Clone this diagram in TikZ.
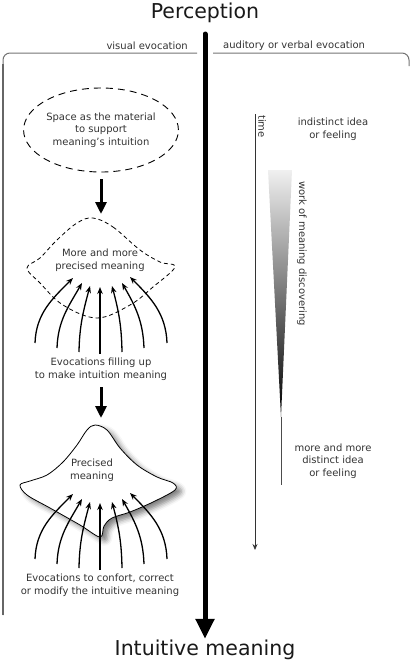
\documentclass[tikz,border=0pt]{standalone}
\usepackage{fontspec}
\setmainfont{DejaVu Sans}
\usetikzlibrary{arrows.meta,shadows.blur,shapes.geometric,positioning}

\begin{document}
\begin{tikzpicture}[
  x=1pt, y=-1pt,
  txt/.style={font=\fontsize{10}{12.5}\selectfont, text=black!80, align=center, inner sep=0pt},
  bigtxt/.style={font=\fontsize{20.5}{24}\selectfont, text=black!90, inner sep=1pt},
  hdr/.style={draw=black!55, line width=1pt, rounded corners=7pt},
  bigarrow/.style={line width=5pt, line cap=round, -{Triangle[width=18pt,length=20pt]}},
  downarrow/.style={line width=3pt, -{Triangle[width=11pt,length=12pt]}},
  fan/.style={line width=1.3pt, -{Stealth[length=7pt,width=5.5pt]}},
  thinarrow/.style={line width=0.8pt, black!80, -{Stealth[length=6pt,width=5pt]}}
]
\useasboundingbox (0,0) rectangle (410,662);

% Title, result and main axis
\node[bigtxt] (percep) at (205,13) {Perception};
\node[bigtxt] (intuit) at (205,650) {Intuitive meaning};
\coordinate (axtop) at (205,34);
\draw[bigarrow] (axtop) -- (intuit.north);

% Column headers
\draw[hdr] (3,615) -- (3,53) -- (197,53);
\draw[black!60, line width=2pt] (3,64) -- (3,615);
\draw[hdr] (213,53) -- (409,53) -- (409,66);
\node[txt, anchor=east] (vis) at (188,46) {visual evocation};
\node[txt, anchor=west] (aud) at (223,46) {auditory or verbal evocation};

% Left column
\node[draw, dashed, dash pattern=on 7pt off 5pt, line width=0.9pt, ellipse,
      minimum width=128pt, minimum height=84pt, txt] (space) at (101,130)
      {Space as the material\\to support\\meaning's intuition};

\coordinate (d1a) at (101,179);
\coordinate (d1b) at (101,214);
\draw[downarrow] (d1a) -- (d1b);

\draw[dash pattern=on 4pt off 3pt, line width=0.8pt] plot[smooth cycle, tension=0.6]
  coordinates {(93,218) (113,227) (140,250) (160,262) (175,267) (153,287) (130,305)
               (97,318) (63,305) (40,283) (27,268) (40,258) (57,240) (77,223)};
\node[txt] (more) at (100,260) {More and more\\precised meaning};

\node[txt] (fill) at (101,369) {Evocations filling up\\to make intuition meaning};

\coordinate (d2a) at (101,387);
\coordinate (d2b) at (101,418);
\draw[downarrow] (d2a) -- (d2b);

\draw[line width=0.8pt, fill=white, blur shadow={shadow xshift=5pt, shadow yshift=-4pt,
      shadow blur radius=5pt, shadow opacity=50}]
  plot[smooth cycle, tension=0.55]
  coordinates {(95,425) (107,430) (120,448) (137,465) (157,477) (173,483) (175,490)
               (153,502) (130,512) (112,518) (104,526) (100,537) (80,525) (50,508)
               (27,495) (20,485) (30,481) (47,475) (63,462) (77,445) (87,430)};
\node[txt] (prec) at (92,470) {Precised\\meaning};

\node[txt] (confort) at (100,585) {Evocations to confort, correct\\or modify the intuitive meaning};

% Evocation fans
\foreach \dy in {0,216} {
  \foreach \i/\sx/\sy/\tx/\ty/\o/\n in {1/35/343/73/278/88/225, 2/57/348/82/283/88/240,
      3/79/352/90/286/89/255, 4/100/354/100/287/90/270, 5/122/352/112/286/91/285,
      6/144/348/122/283/92/300, 7/167/343/130/277/92/315} {
    \coordinate (s\i) at ({\sx},{\sy+\dy});
    \coordinate (t\i) at ({\tx},{\ty+\dy});
    \draw[fan] (s\i) to[out=\o, in=\n] (t\i);
  }
}

% Right column
\coordinate (ttop) at (255,114);
\coordinate (tend) at (255,550);
\draw[thinarrow] (ttop) -- (tend);
\node[txt, rotate=-90, anchor=west] (time) at (262,115) {time};

\node[txt] (vague) at (333,129) {indistinct idea\\or feeling};
\node[txt] (clear) at (333,461) {more and more\\distinct idea\\or feeling};

\shade[top color=white!94!black, middle color=black!55, bottom color=black]
  (268,170) -- (292,170) -- (281,417) -- cycle;
\coordinate (wtip) at (281,417);
\coordinate (wend) at (281,485);
\draw[black!70, line width=0.7pt] (wtip) -- (wend);
\node[txt, rotate=-90, anchor=west] (work) at (302,181) {work of meaning discovering};
\end{tikzpicture}
\end{document}
